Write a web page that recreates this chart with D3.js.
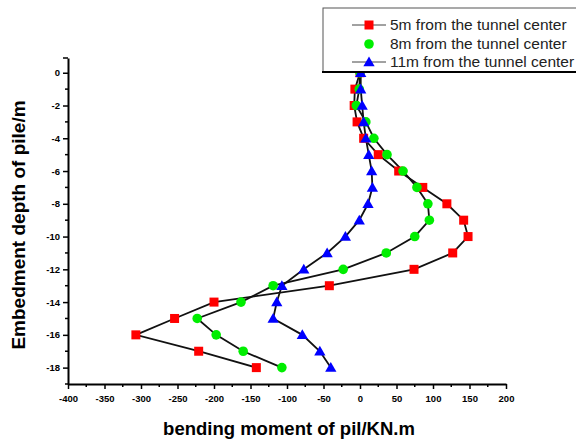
<!DOCTYPE html>
<html><head><meta charset="utf-8">
<script src="https://cdn.jsdelivr.net/npm/d3@7"></script>
<style>body{margin:0;background:#fff}svg{display:block}text{font-family:Arial,"Liberation Sans",sans-serif}</style>
</head><body>
<svg id="c" width="576" height="439"></svg>
<script>
const depths = [0,-1,-2,-3,-4,-5,-6,-7,-8,-9,-10,-11,-12,-13,-14,-15,-16,-17,-18];
const series5m  = [0,-7,-8,-4,5,25,53,86,119,142,148,127,74,-42,-200,-254,-307,-221,-142];
const series8m  = [0,-1,-5,8,19,37,59,78,93,95,75,36,-23,-119,-163,-223,-197,-160,-107];
const series11m = [1,1,3,5,8,12,16,17,11,-1,-20,-45,-77,-107,-114,-119,-79,-55,-40];
const seriesNames = ["5m from the tunnel center","8m from the tunnel center","11m from the tunnel center"];
const xTicks = [-400,-350,-300,-250,-200,-150,-100,-50,0,50,100,150,200];
const yTicks = [0,-2,-4,-6,-8,-10,-12,-14,-16,-18];

const svg = d3.select("#c");
const x = d3.scaleLinear().domain([-400,200]).range([68,506]);
const y = d3.scaleLinear().domain([-19,0.9]).range([384,58]);
const fmt = d => String(d);

// axes
const xAxis = d3.axisBottom(x).tickValues(xTicks).tickSize(5).tickSizeOuter(0).tickFormat(fmt);
const gx = svg.append("g").attr("transform","translate(0,384)").call(xAxis);
gx.select(".domain").attr("stroke","#000").attr("stroke-width",2);
gx.selectAll(".tick line").attr("stroke-width",1.5);
gx.selectAll("text").attr("font-size",9.5).attr("font-weight","bold").attr("dy","1.05em").attr("fill","#000");
const xMinor = d3.range(-375,200,50);
gx.selectAll(".minor").data(xMinor).enter().append("line")
  .attr("x1",d=>x(d)).attr("x2",d=>x(d)).attr("y1",0).attr("y2",3).attr("stroke","#000").attr("stroke-width",1.5);

const yAxis = d3.axisLeft(y).tickValues(yTicks).tickSize(5).tickSizeOuter(0).tickFormat(fmt);
const gy = svg.append("g").attr("transform","translate(68,0)").call(yAxis);
gy.select(".domain").attr("stroke","#000").attr("stroke-width",2);
gy.selectAll(".tick line").attr("stroke-width",1.5);
gy.selectAll("text").attr("font-size",9.5).attr("font-weight","bold").attr("fill","#000");
const yMinor = d3.range(-1,-20,-2);
gy.selectAll(".minor").data(yMinor).enter().append("line")
  .attr("x1",0).attr("x2",-3).attr("y1",d=>y(d)).attr("y2",d=>y(d)).attr("stroke","#000").attr("stroke-width",1.5);
gy.append("line").attr("x1",0).attr("x2",-5).attr("y1",y(0.9)).attr("y2",y(0.9)).attr("stroke","#000").attr("stroke-width",1.5);

// titles
svg.append("text").attr("x",289).attr("y",435).attr("text-anchor","middle")
  .attr("font-size",18.5).attr("font-weight","bold").text("bending moment of pil/KN.m");
svg.append("text").attr("transform","translate(25,225) rotate(-90)").attr("text-anchor","middle")
  .attr("font-size",19).attr("font-weight","bold").text("Embedment depth of pile/m");

// data
const all = [series5m, series8m, series11m];
const colors = ["#ff0000","#00ee00","#0000ff"];
const line = d3.line().x(d=>x(d[0])).y(d=>y(d[1]));
all.forEach((s,i)=>{
  const pts = s.map((v,j)=>[v,depths[j]]);
  svg.append("path").datum(pts).attr("d",line).attr("fill","none").attr("stroke","#111").attr("stroke-width",1.8);
});
function marker(g,type,cx,cy,color){
  if(type===0) g.append("rect").attr("x",cx-4.5).attr("y",cy-4.5).attr("width",9).attr("height",9).attr("fill",color);
  else if(type===1) g.append("circle").attr("cx",cx).attr("cy",cy).attr("r",4.8).attr("fill",color);
  else g.append("path").attr("d",d3.symbol(d3.symbolTriangle,55)()).attr("transform",`translate(${cx},${cy+1})`).attr("fill",color);
}
all.forEach((s,i)=>{
  const g = svg.append("g");
  s.forEach((v,j)=>marker(g,i,x(v),y(depths[j]),colors[i]));
});

// legend
const lg = svg.append("g");
lg.append("rect").attr("x",323).attr("y",8).attr("width",260).attr("height",64).attr("fill","#fff").attr("stroke","#555").attr("stroke-width",1);
lg.append("line").attr("x1",322).attr("x2",576).attr("y1",72).attr("y2",72).attr("stroke","#000").attr("stroke-width",2);
const rows = [25,44,62];
seriesNames.forEach((n,i)=>{
  if(i!==1) lg.append("line").attr("x1",352).attr("x2",386).attr("y1",rows[i]).attr("y2",rows[i]).attr("stroke","#444").attr("stroke-width",1);
  marker(lg,i,369,rows[i],colors[i]);
  lg.append("text").attr("x",390).attr("y",rows[i]+5).attr("font-size",15.5).attr("fill","#222").text(n);
});
</script>
</body></html>
